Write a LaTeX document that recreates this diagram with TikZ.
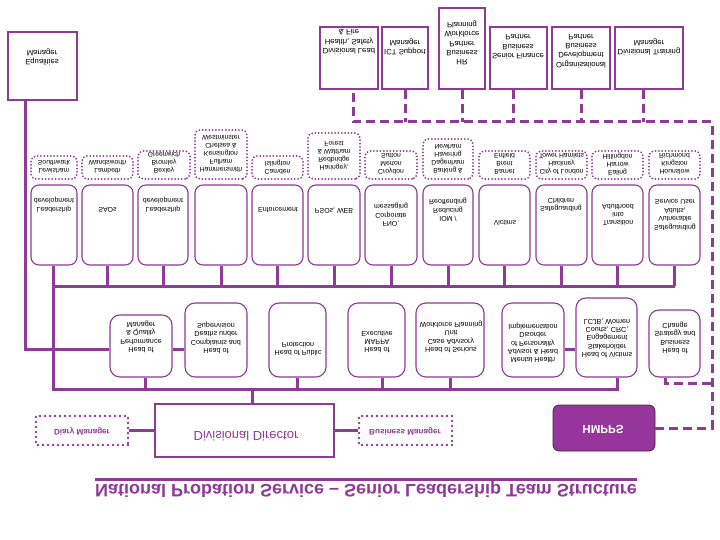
\documentclass[tikz,border=0pt]{standalone}
\usepackage{fontspec}
\setmainfont{Liberation Sans}
\usetikzlibrary{calc}
\definecolor{pp}{RGB}{142,58,150}
\definecolor{hm}{RGB}{150,54,156}
\begin{document}
\begin{tikzpicture}[x=1pt,y=1pt,yscale=-1,
  every node/.append style={transform shape},
  bus/.style={draw=pp, line width=3pt},
  dashline/.style={draw=pp, line width=3pt, dash pattern=on 9pt off 5pt},
  sqbox/.style={draw=pp, line width=2.4pt, rectangle, inner sep=0pt},
  rbox/.style={draw=pp, line width=1.1pt, rectangle, rounded corners=8pt, inner sep=0pt},
  mbox/.style={draw=pp, line width=1.1pt, rectangle, rounded corners=10pt, inner sep=0pt},
  dbox/.style={draw=pp, line width=2pt, rectangle, rounded corners=5pt, dash pattern=on 0pt off 3.3pt, line cap=round, inner sep=0pt},
  pbox/.style={draw=pp, line width=2.8pt, rectangle, dash pattern=on 0pt off 5pt, line cap=round, inner sep=0pt},
  ttop/.style={font=\fontsize{7.7}{9.4}\selectfont, align=center, inner sep=0pt},
  ttopic/.style={font=\fontsize{7}{8.4}\selectfont, align=center, inner sep=0pt},
  tmid/.style={font=\fontsize{7.2}{8.3}\selectfont, align=center, inner sep=0pt},
  tboro/.style={font=\fontsize{6.8}{8}\selectfont, align=center, inner sep=0pt},
  tpur/.style={font=\bfseries\fontsize{8.1}{9}\selectfont, text=pp, inner sep=0pt}
]
\useasboundingbox[fill=white] (0,0) rectangle (720,540);

% ---- top row of solid boxes
\node[sqbox, minimum width=69pt, minimum height=68pt] (eq) at (42.5,66) {};
\node[ttop] (eqt) at (42,57) {Equalities\\Manager};
\node[sqbox, minimum width=58pt, minimum height=62pt] (T1) at (349,58) {};
\node[ttop] (T1t) at (349,42) {Divisional Lead\\Health, Safety\\\& Fire};
\node[sqbox, minimum width=46pt, minimum height=62pt] (T2) at (405,58) {};
\node[ttop] (T2t) at (405,47) {ICT Support\\Manager};
\node[sqbox, minimum width=46pt, minimum height=81pt] (T3) at (462,48.5) {};
\node[ttop] (T3t) at (462,43) {HR\\Business\\Partner\\Workforce\\Planning};
\node[sqbox, minimum width=57pt, minimum height=62pt] (T4) at (518.5,58) {};
\node[ttop] (T4t) at (518,47) {Senior Finance\\Business\\Partner};
\node[sqbox, minimum width=58pt, minimum height=62pt] (T5) at (581,58) {};
\node[ttop] (T5t) at (581,51) {Organisational\\Development\\Business\\Partner};
\node[sqbox, minimum width=68pt, minimum height=62pt] (T6) at (649,58) {};
\node[ttop] (T6t) at (649,47) {Divisional Training\\Manager};

% ---- borough boxes
\node[dbox, minimum width=46pt, minimum height=23pt] (B1) at (54,167.5) {};
\node[tboro] (B1t) at (54,167) {Lewisham\\Southwark};
\node[dbox, minimum width=51pt, minimum height=23pt] (B2) at (107.5,167.5) {};
\node[tboro] (B2t) at (107.5,167) {Lambeth\\Wandsworth};
\node[dbox, minimum width=52pt, minimum height=28pt] (B3) at (164,165) {};
\node[tboro] (B3t) at (164,163) {Bexley\\Bromley\\Greenwich};
\node[dbox, minimum width=52pt, minimum height=49pt] (B4) at (221,154.5) {};
\node[tboro] (B4t) at (221,154) {Hammersmith\\Fulham\\Kensington\\Chelsea \&\\Westminster};
\node[dbox, minimum width=51pt, minimum height=23pt] (B5) at (277.5,167.5) {};
\node[tboro] (B5t) at (277.5,167) {Camden\\Islington};
\node[dbox, minimum width=52pt, minimum height=46pt] (B6) at (334,156) {};
\node[tboro] (B6t) at (334,156) {Haringey,\\Redbridge\\\& Waltham\\Forest};
\node[dbox, minimum width=52pt, minimum height=28pt] (B7) at (391,165) {};
\node[tboro] (B7t) at (391,164) {Croydon\\Merton\\Sutton};
\node[dbox, minimum width=50pt, minimum height=40pt] (B8) at (448,159) {};
\node[tboro] (B8t) at (448,159) {Barking \&\\Dagenham\\Havering\\Newham};
\node[dbox, minimum width=51pt, minimum height=28pt] (B9) at (504.5,165) {};
\node[tboro] (B9t) at (504.5,164) {Barnet\\Brent\\Enfield};
\node[dbox, minimum width=51pt, minimum height=28pt] (B10) at (561.5,165) {};
\node[tboro] (B10t) at (561.5,164) {City of London\\Hackney\\Tower Hamlets};
\node[dbox, minimum width=51pt, minimum height=28pt] (B11) at (617.5,165) {};
\node[tboro] (B11t) at (617.5,164) {Ealing\\Harrow\\Hillingdon};
\node[dbox, minimum width=51pt, minimum height=28pt] (B12) at (674.5,165) {};
\node[tboro] (B12t) at (674.5,164) {Hounslow\\Kingston\\Richmond};

% ---- topic boxes
\node[rbox, minimum width=46pt, minimum height=80pt] (R1) at (54,225) {};
\node[ttopic] (R1t) at (54,205) {Leadership\\development};
\node[rbox, minimum width=51pt, minimum height=80pt] (R2) at (107.5,225) {};
\node[ttopic] (R2t) at (107.5,210) {SAOs};
\node[rbox, minimum width=50pt, minimum height=80pt] (R3) at (163,225) {};
\node[ttopic] (R3t) at (163,205) {Leadership\\development};
\node[rbox, minimum width=52pt, minimum height=80pt] (R4) at (221,225) {};
\node[rbox, minimum width=51pt, minimum height=80pt] (R5) at (277.5,225) {};
\node[ttopic] (R5t) at (278,210) {Enforcement};
\node[rbox, minimum width=52pt, minimum height=80pt] (R6) at (334,225) {};
\node[ttopic] (R6t) at (334,210) {PSOs, WEB};
\node[rbox, minimum width=52pt, minimum height=80pt] (R7) at (391,225) {};
\node[ttopic] (R7t) at (391,215) {FNO,\\Corporate\\messaging};
\node[rbox, minimum width=50pt, minimum height=80pt] (R8) at (448,225) {};
\node[ttopic] (R8t) at (448,210) {IOM /\\Reducing\\Reoffending};
\node[rbox, minimum width=51pt, minimum height=80pt] (R9) at (504.5,225) {};
\node[ttopic] (R9t) at (505,223) {Victims};
\node[rbox, minimum width=51pt, minimum height=80pt] (R10) at (561.5,225) {};
\node[ttopic] (R10t) at (561,205) {Safeguarding\\Children};
\node[rbox, minimum width=51pt, minimum height=80pt] (R11) at (617.5,225) {};
\node[ttopic] (R11t) at (618,215) {Transition\\into\\Adulthood};
\node[rbox, minimum width=51pt, minimum height=80pt] (R12) at (674.5,225) {};
\node[ttopic] (R12t) at (675,215) {Safeguarding\\Vulnerable\\Adults,\\Service User};

% ---- heads
\node[mbox, minimum width=62pt, minimum height=62pt] (M1) at (141,346) {};
\node[tmid] (M1t) at (141,337) {Head of\\Performance\\\& Quality\\Manager};
\node[mbox, minimum width=62pt, minimum height=74pt] (M2) at (216,340) {};
\node[tmid] (M2t) at (216,338) {Head of\\Complaints and\\Deaths under\\Supervision};
\node[mbox, minimum width=57pt, minimum height=74pt] (M3) at (297.5,340) {};
\node[tmid] (M3t) at (298,349) {Head of Public\\Protection};
\node[mbox, minimum width=57pt, minimum height=74pt] (M4) at (376.5,340) {};
\node[tmid] (M4t) at (377,342) {Head of\\MAPPA\\Executive};
\node[mbox, minimum width=68pt, minimum height=74pt] (M5) at (450,340) {};
\node[tmid] (M5t) at (451,337) {Head of Serious\\Case Advisory\\Unit\\Workforce Planning};
\node[mbox, minimum width=62pt, minimum height=74pt] (M6) at (533,340) {};
\node[tmid] (M6t) at (533,343) {Mental Health\\Advisor \& Head\\of Personality\\Disorder\\Implementation};
\node[mbox, minimum width=61pt, minimum height=79pt] (M7) at (606.5,337.5) {};
\node[tmid] (M7t) at (607,338) {Head of Victims\\Stakeholder\\Engagement\\Courts, CRC,\\LCJB, Women};
\node[mbox, minimum width=51pt, minimum height=67pt] (M8) at (674.5,343.5) {};
\node[tmid] (M8t) at (675,338) {Head of\\Business\\Strategy and\\Change};

% ---- bottom row
\node[sqbox, minimum width=179pt, minimum height=53pt] (D) at (244.5,430.5) {};
\node[inner sep=0pt, font=\fontsize{13}{15}\selectfont, text=pp] (Dt) at (246,436) {Divisional Director};
\node[pbox, minimum width=92pt, minimum height=29pt] (DM) at (82,430.5) {};
\node[tpur] (DMt) at (82,432) {Diary Manager};
\node[pbox, minimum width=93pt, minimum height=29pt] (BM) at (405.5,430.5) {};
\node[tpur] (BMt) at (405,432) {Business Manager};
\node[draw=black!80, line width=0.8pt, fill=hm, rounded corners=6pt, minimum width=102pt, minimum height=46pt, inner sep=0pt] (H) at (604,428) {};
\node[inner sep=0pt, font=\bfseries\fontsize{11.6}{13}\selectfont, text=white] (Ht) at (603,429) {HMPPS};

% ---- title
\node[inner sep=0pt, font=\bfseries\fontsize{18}{20}\selectfont, text=pp] (title) at (366,489) {National Probation Service – Senior Leadership Team Structure};
\coordinate (ul1) at (95,479);
\coordinate (ul2) at (637,479);
\draw[pp, line width=3pt] (ul1) -- (ul2);

% ---- bus coordinates
\coordinate (tb) at (0,286);
\coordinate (bb) at (0,389);
\coordinate (cr) at (712,122);
\coordinate (cm) at (712,383);

% ---- solid connectors
\draw[bus] ([xshift=-17.5pt]eq.north) |- ([yshift=3pt]M1.west);
\draw[bus] ([xshift=-1pt]R1.north) -- ([xshift=-1pt]R1.north |- bb) -- ([xshift=10.5pt]M7.north |- bb) -- ([xshift=10.5pt]M7.north);
\draw[bus] ([xshift=-1pt]R1.north |- tb) -- (R12.north |- tb);
\foreach \r in {R2,R3,R4,R5,R6,R7,R8,R9,R10,R11,R12}{
  \draw[bus] (\r.north) -- (\r.north |- tb);
}
\draw[bus] ([xshift=4pt]M1.north) -- ([xshift=4pt]M1.north |- bb);
\draw[bus] (M3.north) -- (M3.north |- bb);
\draw[bus] ([xshift=6pt]M4.north) -- ([xshift=6pt]M4.north |- bb);
\draw[bus] (M5.north) -- (M5.north |- bb);
\draw[bus] ([yshift=3pt]M1.east) -- ([yshift=3pt]M1.east -| M2.west);
\draw[bus] ([yshift=9pt]M6.east) -- ([yshift=9pt]M6.east -| M7.west);
\draw[bus] ([xshift=7.5pt]D.south) -- ([xshift=7.5pt]D.south |- bb);
\draw[bus] (DM.east) -- (D.west);
\draw[bus] (D.east) -- (BM.west);

% ---- dashed connectors
\draw[dashline] (H.east) -| (cr) -| ([xshift=4pt]T1.north);
\foreach \t in {T2,T3,T5}{
  \draw[dashline] (\t.north) -- (\t.north |- cr);
}
\draw[dashline] ([xshift=-5.5pt]T4.north) -- ([xshift=-5.5pt]T4.north |- cr);
\draw[dashline] ([xshift=-6pt]T6.north) -- ([xshift=-6pt]T6.north |- cr);
\draw[dashline] ([xshift=-9.5pt]M8.north) |- (cm);
\end{tikzpicture}
\end{document}
